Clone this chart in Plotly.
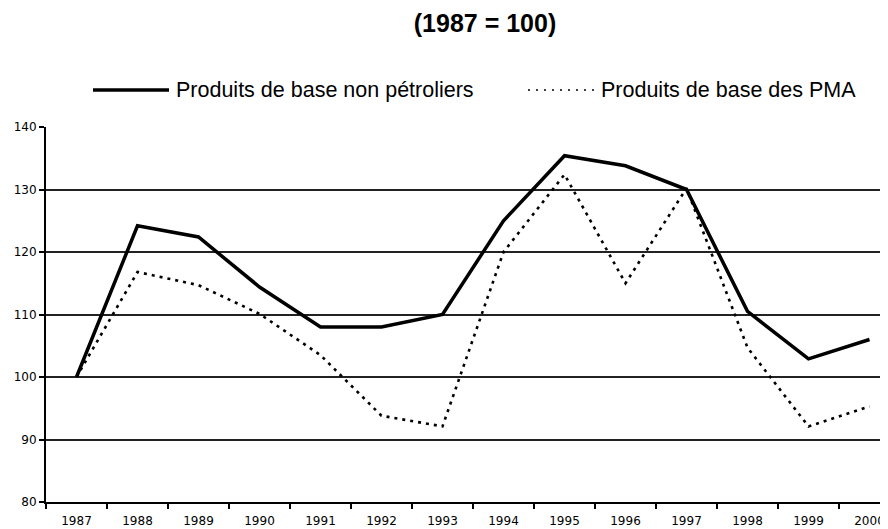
import plotly.graph_objects as go

years = ["1987", "1988", "1989", "1990", "1991", "1992", "1993",
         "1994", "1995", "1996", "1997", "1998", "1999", "2000"]
non_petroliers = [100, 124.2, 122.4, 114.4, 108.0, 108.0, 110.0,
                  125.0, 135.4, 133.8, 130.0, 110.5, 102.9, 106.0]
pma = [100, 116.8, 114.7, 110.1, 103.5, 93.8, 92.1,
       120.0, 132.4, 115.0, 130.2, 104.7, 92.1, 95.3]
name_a = "Produits de base non pétroliers"
name_b = "Produits de base des PMA"
title_text = "(1987 = 100)"

# page body has an 8px margin: figure sits at (8, 8) in the window
OFF = 8
W, H = 888 - OFF, 529 - OFF
L, R, T = 46 - OFF, 0, 127 - OFF
B = H - (502 - OFF)
pw, ph = W - L - R, H - T - B


def px(x):
    return (x - OFF - L) / pw


def py(y):
    return (H - B - (y - OFF)) / ph


fig = go.Figure()
fig.add_trace(go.Scatter(x=years, y=non_petroliers, mode="lines", name=name_a,
                         line=dict(color="black", width=3.5), showlegend=False))
fig.add_trace(go.Scatter(x=years, y=pma, mode="lines", name=name_b,
                         line=dict(color="black", width=2.6, dash="3px,5px"),
                         showlegend=False))

# manual legend (reference window pixel positions)
LEG_Y = 90
fig.add_shape(type="line", xref="paper", yref="paper",
              x0=px(93), x1=px(169), y0=py(LEG_Y), y1=py(LEG_Y),
              line=dict(color="black", width=3.5))
fig.add_annotation(xref="paper", yref="paper", x=px(174), y=py(LEG_Y),
                   text=name_a, showarrow=False, xanchor="left", yanchor="middle",
                   font=dict(family="Liberation Sans, Arial", size=21.5, color="black"))
fig.add_shape(type="line", xref="paper", yref="paper",
              x0=px(528), x1=px(598), y0=py(LEG_Y), y1=py(LEG_Y),
              line=dict(color="black", width=1.5, dash="2px,6px"))
fig.add_annotation(xref="paper", yref="paper", x=px(599), y=py(LEG_Y),
                   text=name_b, showarrow=False, xanchor="left", yanchor="middle",
                   font=dict(family="Liberation Sans, Arial", size=21.5, color="black"))

fig.update_layout(
    width=W, height=H,
    margin=dict(l=L, r=R, t=T, b=B),
    paper_bgcolor="white", plot_bgcolor="white",
    title=dict(text="<b>" + title_text + "</b>", x=(485 - OFF) / W, xanchor="center",
               y=1 - (23 - OFF) / H, yanchor="middle",
               font=dict(family="Liberation Sans, Arial", size=25, color="black")),
    showlegend=False,
)
fig.update_xaxes(type="category", range=[-0.5, -0.5 + pw / 61.0],
                 tickson="boundaries", ticks="outside", ticklen=5, tickwidth=1.5,
                 tickcolor="black", showline=True, linecolor="black", linewidth=2,
                 showgrid=False, zeroline=False, ticklabelstandoff=7,
                 tickfont=dict(family="DejaVu Sans", size=12, color="black"))
fig.update_yaxes(range=[80, 140], dtick=10, ticks="outside", ticklen=5, tickwidth=1.5,
                 tickcolor="black", showline=True, linecolor="black", linewidth=2,
                 showgrid=True, gridcolor="#222", gridwidth=1.6, zeroline=False,
                 tickfont=dict(family="DejaVu Sans", size=12, color="black"))

fig.write_html("out.html")
